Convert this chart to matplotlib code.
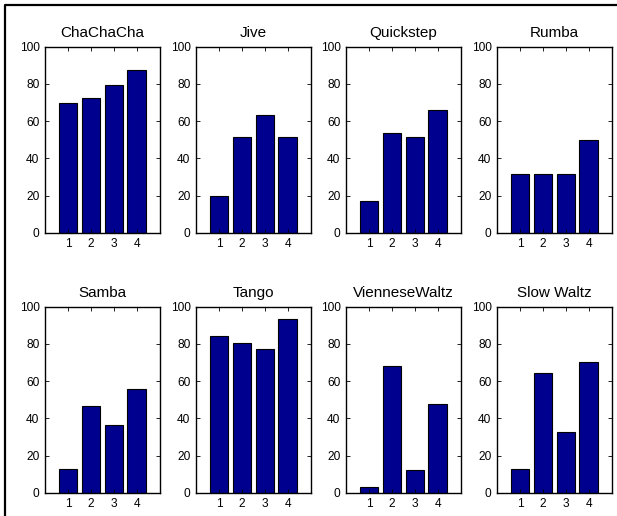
import numpy as np
import matplotlib
matplotlib.use('Agg')
import matplotlib.pyplot as plt
from matplotlib.lines import Line2D

plt.rcParams['font.family'] = ['Liberation Sans', 'DejaVu Sans']

# Dances and the four bar heights
dances = ['ChaChaCha', 'Jive', 'Quickstep', 'Rumba',
          'Samba', 'Tango', 'VienneseWaltz', 'Slow Waltz']
chachacha = [69.5, 72.2, 79.4, 87.5]
jive = [19.9, 51.6, 63.4, 51.6]
quickstep = [17.0, 53.8, 51.3, 65.9]
rumba = [31.5, 31.5, 31.5, 49.8]
samba = [12.7, 46.7, 36.3, 56.0]
tango = [84.2, 80.6, 77.2, 93.5]
viennese = [3.1, 68.0, 12.4, 47.9]
slowwaltz = [12.7, 64.1, 32.9, 70.4]
valores = [chachacha, jive, quickstep, rumba, samba, tango, viennese, slowwaltz]
categorias = [1, 2, 3, 4]

W, H = 617, 516
fig = plt.figure(figsize=(W / 100, H / 100), dpi=100)

# moldura preta (so lados esquerdo e superior aparecem)
fig.add_artist(Line2D([5 / W, 5 / W, 1], [0, 1 - 5 / H, 1 - 5 / H],
                      transform=fig.transFigure, color='black', lw=1.6))

lefts = [45, 196, 346, 497]
tops = [46.7, 306.7]
largura, altura = 114.5, 186

for i, (nome, vals) in enumerate(zip(dances, valores)):
    lin, col = divmod(i, 4)
    x0 = lefts[col] / W
    y0 = 1 - (tops[lin] + altura) / H
    ax = fig.add_axes([x0, y0, largura / W, altura / H])
    ax.bar(categorias, vals, width=0.8, color='#00008F',
           edgecolor='black', linewidth=0.8)
    ax.set_xlim(0, 5)
    ax.set_ylim(0, 100)
    ax.set_xticks(categorias)
    ax.set_yticks(np.arange(0, 101, 20))
    ax.tick_params(direction='in', length=3, width=0.6, top=True, right=True,
                   labelsize=8.6, pad=4)
    for s in ax.spines.values():
        s.set_linewidth(1.0)
    ax.set_title(nome, fontsize=11, pad=7)

fig.savefig('out.png', dpi=100)
